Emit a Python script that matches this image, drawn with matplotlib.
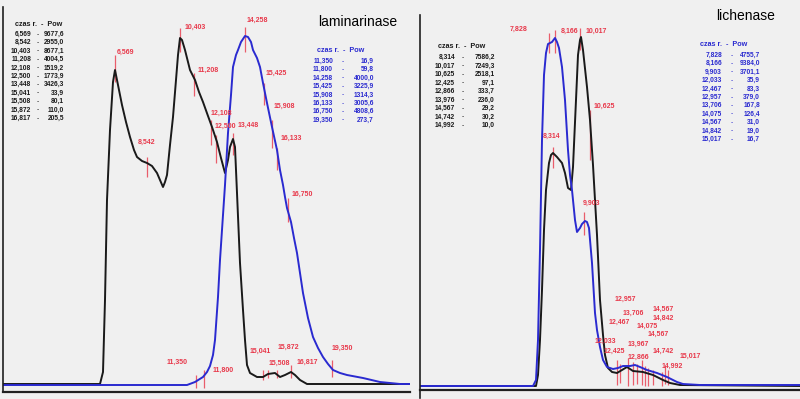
import matplotlib
matplotlib.use('Agg')
import matplotlib.pyplot as plt

# chromatogram traces, x = position on the recorder scale, y = response height
lam_black_x = [3, 100, 103, 105, 107, 110, 113, 115, 118, 122, 126, 130, 134, 137, 142, 147, 152, 157, 160, 163, 165,
               167, 170, 173, 176, 178, 180, 182, 185, 188, 190, 195, 199, 203, 208, 212, 217, 221, 225, 228, 230, 233,
               235, 237, 240, 243, 245, 247, 250, 257, 263, 268, 275, 280, 285, 291, 295, 300, 307, 410]
lam_black_y = [1, 1, 13, 85, 185, 255, 303, 315, 300, 280, 263, 248, 235, 228, 224, 222, 219, 212, 205, 198, 203,
               210, 240, 268, 305, 330, 347, 345, 335, 323, 315, 305, 293, 283, 269, 258, 243, 227, 212, 225, 238, 246,
               238, 192, 122, 75, 45, 20, 12, 8, 8, 11, 12, 8, 10, 13, 10, 5, 1, 1]
lam_blue_x = [3, 187, 195, 203, 207, 210, 213, 215, 218, 220, 222, 225, 228, 231, 233, 236, 238, 241, 245, 248, 251,
              253, 257, 260, 263, 267, 272, 277, 280, 283, 285, 287, 291, 294, 297, 300, 303, 308, 313, 318, 323, 328,
              333, 340, 347, 363, 380, 400, 410]
lam_blue_y = [0, 0, 3, 8, 13, 19, 30, 45, 88, 125, 155, 200, 252, 290, 318, 330, 335, 343, 349, 348, 343,
              335, 327, 318, 302, 282, 258, 235, 215, 200, 188, 177, 163, 147, 132, 112, 92, 67, 48, 37, 28, 21,
              15, 12, 10, 7, 3, 1, 1]

lich_black_x = [420, 536, 538, 540, 542, 544, 546, 549, 551, 553, 557, 562, 565, 568, 571, 573, 576, 578, 580, 581,
                583, 587, 590, 593, 597, 600, 603, 605, 608, 612, 617, 622, 627, 633, 643, 653, 663, 670, 680, 800]
lich_black_y = [0, 0, 11, 46, 96, 156, 196, 223, 231, 233, 229, 223, 213, 198, 196, 219, 286, 331, 346, 349,
                336, 299, 266, 221, 151, 86, 51, 31, 18, 14, 13, 16, 19, 15, 14, 11, 6, 3, 1, 0]
lich_blue_x = [420, 533, 536, 538, 540, 542, 544, 546, 548, 552, 555, 557, 559, 562, 565, 568, 570, 572, 575, 577,
               580, 582, 585, 587, 589, 592, 595, 597, 600, 603, 607, 613, 618, 623, 630, 635, 640, 647, 657, 667,
               677, 683, 700, 800]
lich_blue_y = [0, 0, 6, 46, 136, 246, 311, 333, 342, 344, 348, 344, 338, 319, 286, 236, 211, 196, 166, 154,
               158, 162, 165, 164, 158, 123, 73, 56, 39, 26, 19, 17, 18, 20, 20, 21, 19, 16, 13, 9,
               4, 2, 1, 1]

# peak markers: label, marker x, marker bottom, marker top, label x, label y
lam_peaks = ['6,569', '8,542', '10,403', '11,208', '12,108', '12,500', '13,448', '14,258', '15,425', '15,908',
             '16,133', '16,750', '19,350', '11,350', '11,800', '15,041', '15,508', '15,872', '16,817']
lam_tick_x = [115, 147, 180, 194, 211, 216, 233, 245, 264, 272, 277, 288, 332, 196, 204, 263, 268, 277, 291]
lam_tick_lo = [303, 208, 333, 289, 240, 222, 230, 333, 280, 237, 215, 163, 8, -3, -3, 5, 7, 7, 7]
lam_tick_hi = [330, 228, 357, 312, 265, 250, 252, 358, 302, 265, 237, 187, 25, 10, 15, 15, 15, 15, 20]
lam_lab_x = [117, 138, 185, 198, 211, 215, 238, 247, 266, 274, 281, 292, 332, 167, 213, 250, 269, 278, 297]
lam_lab_y = [333, 243, 358, 315, 272, 259, 260, 365, 312, 279, 247, 191, 37, 23, 15, 34, 22, 38, 23]

lich_peaks = ['7,828', '8,166', '10,017', '10,625', '8,314', '9,903', '12,957', '13,706', '14,567', '14,842',
              '12,467', '14,075', '14,567', '12,033', '13,967', '14,742', '15,017', '12,425', '12,866', '14,992']
lich_lab_x = [510, 561, 586, 594, 543, 583, 615, 623, 653, 653, 609, 637, 648, 595, 628, 653, 680, 604, 628, 662]
lich_lab_y = [357, 355, 355, 280, 250, 183, 87, 73, 77, 68, 64, 60, 52, 45, 42, 35, 30, 35, 29, 20]
lich_tick_x = [549, 555, 580, 590, 553, 584, 617, 620, 628, 633, 637, 642, 645, 648, 653, 662, 665, 668]
lich_tick_lo = [333, 333, 336, 226, 218, 151, 1, 3, 0, 1, 2, 1, 0, 0, 1, 0, 2, 1]
lich_tick_hi = [353, 356, 358, 276, 239, 174, 26, 22, 28, 24, 22, 26, 20, 18, 16, 14, 20, 16]

# result tables (retention time - area)
lam_black_t = ['6,569', '8,542', '10,403', '11,208', '12,108', '12,500', '13,448', '15,041', '15,508', '15,872', '16,817']
lam_black_a = ['9677,6', '2955,0', '8677,1', '4004,5', '1519,2', '1773,9', '3426,3', '33,9', '80,1', '110,0', '205,5']
lam_blue_t = ['11,350', '11,800', '14,258', '15,425', '15,908', '16,133', '16,750', '19,350']
lam_blue_a = ['16,9', '59,8', '4000,0', '3225,9', '1314,3', '3005,6', '4808,6', '273,7']
lich_black_t = ['8,314', '10,017', '10,625', '12,425', '12,866', '13,976', '14,567', '14,742', '14,992']
lich_black_a = ['7586,2', '7249,3', '2518,1', '97,1', '333,7', '236,0', '29,2', '30,2', '10,0']
lich_blue_t = ['7,828', '8,166', '9,903', '12,033', '12,467', '12,957', '13,706', '14,075', '14,567', '14,842', '15,017']
lich_blue_a = ['4755,7', '9384,0', '3701,1', '35,9', '83,3', '379,0', '167,8', '126,4', '31,0', '19,0', '16,7']

BG = '#f0f0f0'
BLUE = '#2a2ad0'
RED = '#e8384a'
FONT = 'Liberation Sans'

fig = plt.figure(figsize=(8, 3.99), dpi=100, facecolor=BG)


def table(ax, x, y, times, areas, color, dy):
    # x = (header left, time right, dash, area right)
    ax.text(x[0], y, 'czas r.  -  Pow', color=color, fontsize=5.2, fontweight='bold',
            family=FONT, va='center', ha='left')
    for i, (t, a) in enumerate(zip(times, areas)):
        yy = y - dy * (i + 1) - 2
        ax.text(x[1], yy, t, color=color, fontsize=4.8, fontweight='bold', family=FONT, ha='right', va='center')
        ax.text(x[2], yy, '-', color=color, fontsize=4.8, family=FONT, ha='center', va='center')
        ax.text(x[3], yy, a, color=color, fontsize=4.8, fontweight='bold', family=FONT, ha='right', va='center')


def panel(rect, xlim, ylim, spine_y, left_bounds):
    ax = fig.add_axes(rect)
    ax.set_facecolor('none')
    ax.set_xlim(*xlim)
    ax.set_ylim(*ylim)
    ax.set_xticks([])
    ax.set_yticks([])
    ax.spines['top'].set_visible(False)
    ax.spines['right'].set_visible(False)
    ax.spines['bottom'].set_position(('data', spine_y))
    ax.spines['bottom'].set_linewidth(1.6)
    ax.spines['bottom'].set_color('#202020')
    ax.spines['left'].set_bounds(*left_bounds)
    ax.spines['left'].set_linewidth(1.2)
    ax.spines['left'].set_color('#202020')
    return ax


# laminarinase
ax1 = panel([3 / 800, 0, 407 / 800, 1], (3, 410), (-14, 385), -7, (-7, 378))
ax1.vlines(lam_tick_x, lam_tick_lo, lam_tick_hi, color=RED, lw=0.9, alpha=0.8)
ax1.plot(lam_black_x, lam_black_y, color='#1a1a1a', lw=1.4)
ax1.plot(lam_blue_x, lam_blue_y, color=BLUE, lw=1.4)
for s, x, y in zip(lam_peaks, lam_lab_x, lam_lab_y):
    ax1.text(x, y, s, color=RED, fontsize=5, fontweight='bold', family=FONT, va='center', ha='left')
ax1.text(318, 363, 'laminarinase', fontsize=10, family=FONT, va='center', ha='left')
table(ax1, (15, 31, 38, 64), 361, lam_black_t, lam_black_a, '#1a1a1a', 8.4)
table(ax1, (317, 333, 343, 374), 334, lam_blue_t, lam_blue_a, BLUE, 8.4)

# lichenase
ax2 = panel([420 / 800, 0, 380 / 800, 1], (420, 800), (-13, 386), -4, (-12, 371))
ax2.vlines(lich_tick_x, lich_tick_lo, lich_tick_hi, color=RED, lw=0.9, alpha=0.8)
ax2.plot(lich_black_x, lich_black_y, color='#1a1a1a', lw=1.4)
ax2.plot(lich_blue_x, lich_blue_y, color=BLUE, lw=1.4)
for s, x, y in zip(lich_peaks, lich_lab_x, lich_lab_y):
    ax2.text(x, y, s, color=RED, fontsize=5, fontweight='bold', family=FONT, va='center', ha='left')
ax2.text(716, 370, 'lichenase', fontsize=10, family=FONT, va='center', ha='left')
table(ax2, (438, 455, 463, 495), 339, lich_black_t, lich_black_a, '#1a1a1a', 8.5)
table(ax2, (700, 722, 732, 760), 341, lich_blue_t, lich_blue_a, BLUE, 8.4)

fig.savefig('out.png', dpi=100, facecolor=BG)
